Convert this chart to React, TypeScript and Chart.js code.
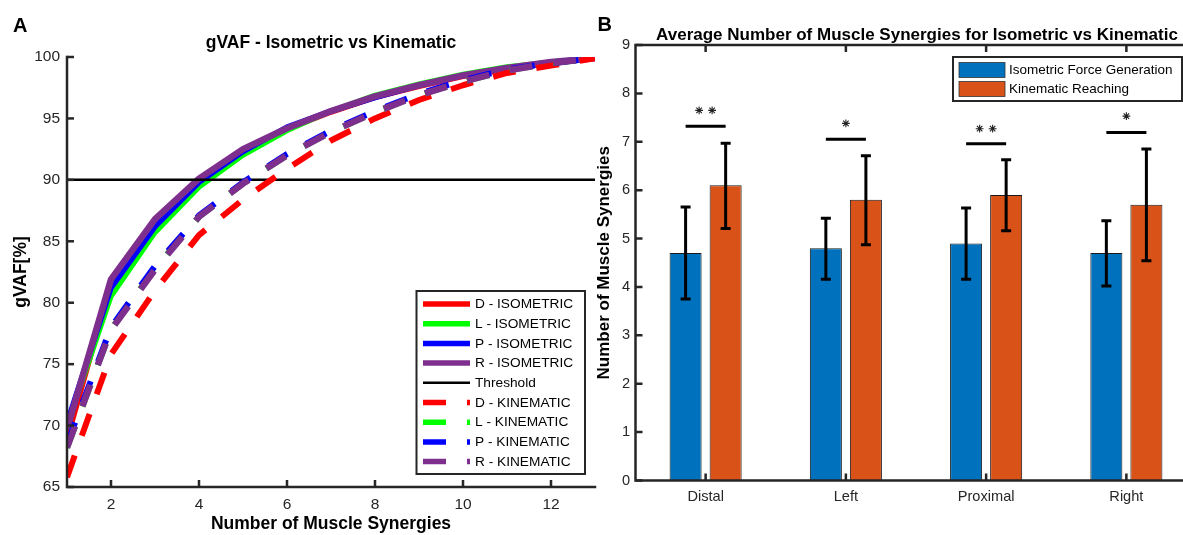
import React, { useEffect, useRef } from 'react';
import { Chart, registerables } from 'chart.js';

Chart.register(...registerables);

// ---------- Panel A data ----------
const synergyCounts = [1, 2, 3, 4, 5, 6, 7, 8, 9, 10, 11, 12, 13];
const dIsometric = [68.8, 81.5, 86.5, 89.8, 92.3, 94.1, 95.5, 96.7, 97.6, 98.4, 99.0, 99.5, 99.9];
const lIsometric = [70.0, 80.5, 85.7, 89.4, 92.0, 94.0, 95.6, 96.9, 97.8, 98.6, 99.2, 99.6, 99.9];
const pIsometric = [70.2, 81.2, 86.2, 89.8, 92.3, 94.3, 95.6, 96.7, 97.7, 98.5, 99.1, 99.5, 99.9];
const rIsometric = [69.7, 81.9, 86.8, 90.1, 92.5, 94.2, 95.6, 96.8, 97.7, 98.5, 99.1, 99.6, 99.9];
const thresholdX = [1, 13];
const thresholdValue = 90;
const dKinematic = [65.8, 75.8, 81.0, 85.5, 88.4, 90.9, 93.2, 95.0, 96.5, 97.7, 98.7, 99.3, 99.9];
const lKinematic = [68.2, 77.8, 82.8, 87.0, 89.7, 92.0, 93.9, 95.5, 96.9, 98.0, 98.9, 99.5, 99.9];
const pKinematic = [68.5, 78.0, 83.0, 87.1, 89.8, 92.1, 94.0, 95.6, 97.0, 98.1, 99.0, 99.5, 99.9];
const rKinematic = [68.2, 77.8, 82.7, 87.0, 89.7, 92.0, 93.9, 95.5, 96.9, 98.0, 98.9, 99.5, 99.9];
const gvafXTicks = [2, 4, 6, 8, 10, 12];
const gvafYTicks = [65, 70, 75, 80, 85, 90, 95, 100];

// ---------- Panel B data ----------
const regions = ['Distal', 'Left', 'Proximal', 'Right'];
const isometricMeans = [4.7, 4.8, 4.9, 4.7];
const kinematicMeans = [6.1, 5.8, 5.9, 5.7];
const isometricErrLow = [3.75, 4.16, 4.16, 4.02];
const isometricErrHigh = [5.65, 5.42, 5.63, 5.37];
const kinematicErrLow = [5.21, 4.87, 5.16, 4.54];
const kinematicErrHigh = [6.97, 6.71, 6.63, 6.85];
const significanceLevels = [7.32, 7.05, 6.96, 7.19];
const starLevels = [7.65, 7.38, 7.27, 7.53];
const starCounts = [2, 1, 2, 1];
const synergyYTicks = [0, 1, 2, 3, 4, 5, 6, 7, 8, 9];

const FONT = '"Liberation Sans", Arial, Helvetica, sans-serif';
const AXIS = '#262626';

type Series = { label: string; xs: number[]; values: number[]; color: string; width: number; dash: number[] };

const KDASH = [23, 21];
const seriesA: Series[] = [
  { label: 'D - ISOMETRIC', xs: synergyCounts, values: dIsometric, color: '#FF0000', width: 5, dash: [] },
  { label: 'L - ISOMETRIC', xs: synergyCounts, values: lIsometric, color: '#00FF00', width: 5, dash: [] },
  { label: 'P - ISOMETRIC', xs: synergyCounts, values: pIsometric, color: '#0000FF', width: 5.5, dash: [] },
  { label: 'R - ISOMETRIC', xs: synergyCounts, values: rIsometric, color: '#7E2F8E', width: 6.5, dash: [] },
  { label: 'Threshold', xs: thresholdX, values: thresholdX.map(() => thresholdValue), color: '#000000', width: 2.5, dash: [] },
  { label: 'D - KINEMATIC', xs: synergyCounts, values: dKinematic, color: '#FF0000', width: 6, dash: KDASH },
  { label: 'L - KINEMATIC', xs: synergyCounts, values: lKinematic, color: '#00FF00', width: 6, dash: KDASH },
  { label: 'P - KINEMATIC', xs: synergyCounts, values: pKinematic, color: '#0000FF', width: 6, dash: KDASH },
  { label: 'R - KINEMATIC', xs: synergyCounts, values: rKinematic, color: '#7E2F8E', width: 6.5, dash: KDASH },
];

const panelAPlugin = {
  id: 'panelA',
  afterDatasetsDraw(chart: any) {
    const ctx = chart.ctx;
    const { left, right, top, bottom } = chart.chartArea;
    const xs = chart.scales.x;
    const ys = chart.scales.y;
    ctx.save();
    ctx.strokeStyle = AXIS;
    ctx.lineWidth = 2.5;
    ctx.lineCap = 'square';
    ctx.beginPath();
    ctx.moveTo(left, top);
    ctx.lineTo(left, bottom);
    ctx.lineTo(right, bottom);
    ctx.stroke();
    ctx.lineCap = 'butt';
    ctx.lineWidth = 2.5;
    gvafYTicks.forEach((v) => {
      const y = ys.getPixelForValue(v);
      ctx.beginPath();
      ctx.moveTo(left, y);
      ctx.lineTo(left + 7, y);
      ctx.stroke();
    });
    gvafXTicks.forEach((v) => {
      const x = xs.getPixelForValue(v);
      ctx.beginPath();
      ctx.moveTo(x, bottom);
      ctx.lineTo(x, bottom - 7);
      ctx.stroke();
    });

    // legend
    const bx = 416.5, by = 291, bw = 168.5, bh = 183;
    ctx.fillStyle = '#ffffff';
    ctx.fillRect(bx, by, bw, bh);
    ctx.strokeStyle = AXIS;
    ctx.lineWidth = 2;
    ctx.strokeRect(bx, by, bw, bh);
    ctx.font = '13.7px ' + FONT;
    ctx.textBaseline = 'middle';
    ctx.textAlign = 'left';
    seriesA.forEach((s, i) => {
      const y = 304 + i * 19.7;
      ctx.strokeStyle = s.color;
      ctx.lineWidth = s.width === 2.5 ? 2.5 : 5.5;
      ctx.setLineDash(s.dash);
      ctx.beginPath();
      ctx.moveTo(423, y);
      ctx.lineTo(470, y);
      ctx.stroke();
      ctx.setLineDash([]);
      ctx.fillStyle = '#000000';
      ctx.fillText(s.label, 475, y + 0.5);
    });
    ctx.restore();
  },
  afterDraw(chart: any) {
    const ctx = chart.ctx;
    ctx.save();
    ctx.fillStyle = '#000000';
    ctx.textBaseline = 'alphabetic';
    ctx.textAlign = 'center';
    ctx.font = 'bold 17.5px ' + FONT;
    const { left, right } = chart.chartArea;
    ctx.fillText('gVAF - Isometric vs Kinematic', (left + right) / 2, 48);
    ctx.textAlign = 'left';
    ctx.font = 'bold 20px ' + FONT;
    ctx.fillText('A', 13, 32);
    ctx.restore();
  },
};

const panelBPlugin = {
  id: 'panelB',
  afterDatasetsDraw(chart: any) {
    const ctx = chart.ctx;
    const { left, right, top, bottom } = chart.chartArea;
    const xs = chart.scales.x;
    const ys = chart.scales.y;
    const m0 = chart.getDatasetMeta(0);
    const m1 = chart.getDatasetMeta(1);
    ctx.save();
    // error bars
    ctx.strokeStyle = '#000000';
    ctx.lineWidth = 3;
    const drawErr = (x: number, lo: number, hi: number) => {
      const yl = ys.getPixelForValue(lo);
      const yh = ys.getPixelForValue(hi);
      ctx.beginPath();
      ctx.moveTo(x, yl);
      ctx.lineTo(x, yh);
      ctx.moveTo(x - 5, yl);
      ctx.lineTo(x + 5, yl);
      ctx.moveTo(x - 5, yh);
      ctx.lineTo(x + 5, yh);
      ctx.stroke();
    };
    regions.forEach((_, j) => {
      drawErr(m0.data[j].x, isometricErrLow[j], isometricErrHigh[j]);
      drawErr(m1.data[j].x, kinematicErrLow[j], kinematicErrHigh[j]);
    });
    // significance lines and stars
    regions.forEach((_, j) => {
      const y = ys.getPixelForValue(significanceLevels[j]);
      ctx.strokeStyle = '#000000';
      ctx.lineWidth = 3;
      ctx.beginPath();
      ctx.moveTo(m0.data[j].x, y);
      ctx.lineTo(m1.data[j].x, y);
      ctx.stroke();
      const cx = xs.getPixelForValue(j);
      const sy = ys.getPixelForValue(starLevels[j]);
      const n = starCounts[j];
      const r = 3.9;
      ctx.strokeStyle = '#222222';
      ctx.lineWidth = 1.1;
      for (let k = 0; k < n; k++) {
        const sx = cx + (k - (n - 1) / 2) * 13;
        ctx.beginPath();
        for (let a = 0; a < 4; a++) {
          const ang = (a * Math.PI) / 4;
          ctx.moveTo(sx - r * Math.cos(ang), sy - r * Math.sin(ang));
          ctx.lineTo(sx + r * Math.cos(ang), sy + r * Math.sin(ang));
        }
        ctx.stroke();
      }
    });
    // axes box
    ctx.strokeStyle = AXIS;
    ctx.lineWidth = 2.5;
    ctx.lineCap = 'square';
    ctx.beginPath();
    ctx.moveTo(right, top);
    ctx.lineTo(left, top);
    ctx.lineTo(left, bottom);
    ctx.lineTo(right, bottom);
    ctx.lineTo(right, top);
    ctx.stroke();
    ctx.lineCap = 'butt';
    synergyYTicks.forEach((v) => {
      const y = ys.getPixelForValue(v);
      ctx.beginPath();
      ctx.moveTo(left, y);
      ctx.lineTo(left + 7, y);
      ctx.moveTo(right, y);
      ctx.lineTo(right - 7, y);
      ctx.stroke();
    });
    regions.forEach((_, j) => {
      const x = xs.getPixelForValue(j);
      ctx.beginPath();
      ctx.moveTo(x, bottom);
      ctx.lineTo(x, bottom - 7);
      ctx.moveTo(x, top);
      ctx.lineTo(x, top + 7);
      ctx.stroke();
    });
    // legend
    const bx = 363, by = 57, bw = 229, bh = 44;
    ctx.fillStyle = '#ffffff';
    ctx.fillRect(bx, by, bw, bh);
    ctx.strokeStyle = AXIS;
    ctx.lineWidth = 2;
    ctx.strokeRect(bx, by, bw, bh);
    ctx.font = '13.5px ' + FONT;
    ctx.textBaseline = 'middle';
    ctx.textAlign = 'left';
    chart.data.datasets.forEach((ds: any, i: number) => {
      const y = 62.5 + i * 19;
      ctx.fillStyle = ds.backgroundColor;
      ctx.fillRect(369, y, 46, 15);
      ctx.strokeStyle = '#333333';
      ctx.lineWidth = 0.8;
      ctx.strokeRect(369, y, 46, 15);
      ctx.fillStyle = '#000000';
      ctx.fillText(ds.label, 419, y + 8);
    });
    ctx.restore();
  },
  afterDraw(chart: any) {
    const ctx = chart.ctx;
    ctx.save();
    ctx.fillStyle = '#000000';
    ctx.textBaseline = 'alphabetic';
    ctx.textAlign = 'center';
    ctx.font = 'bold 17px ' + FONT;
    ctx.fillText('Average Number of Muscle Synergies for Isometric vs Kinematic', 327, 39.5);
    ctx.textAlign = 'left';
    ctx.font = 'bold 20px ' + FONT;
    ctx.fillText('B', 7.5, 30.5);
    ctx.restore();
  },
};

const tickFontA = { family: FONT, size: 15.5 };
const tickFontB = { family: FONT, size: 14.6 };

function makeConfigA(): any {
  return {
    type: 'line',
    data: {
      datasets: seriesA.map((s, i) => ({
        label: s.label,
        data: s.xs.map((x, k) => ({ x, y: s.values[k] })),
        borderColor: s.color,
        backgroundColor: s.color,
        borderWidth: s.width,
        borderDash: s.dash,
        borderCapStyle: 'butt',
        borderJoinStyle: 'round',
        pointRadius: 0,
        tension: 0,
        fill: false,
        order: -i,
      })),
    },
    options: {
      responsive: false,
      animation: false,
      devicePixelRatio: 1,
      layout: { padding: { top: 57, right: 5, left: 0, bottom: 0 } },
      plugins: { legend: { display: false }, tooltip: { enabled: false }, title: { display: false } },
      scales: {
        x: {
          type: 'linear',
          min: 1,
          max: 13,
          afterBuildTicks: (s: any) => {
            s.ticks = gvafXTicks.map((v) => ({ value: v }));
          },
          afterFit: (s: any) => {
            s.height = 48;
          },
          grid: { display: false, drawTicks: false },
          border: { display: false },
          ticks: { font: tickFontA, color: AXIS, padding: 8, maxRotation: 0, autoSkip: false },
          title: {
            display: true,
            text: 'Number of Muscle Synergies',
            color: '#000000',
            font: { family: FONT, size: 17.5, weight: 'bold' },
            padding: { top: 0, bottom: 0 },
          },
        },
        y: {
          type: 'linear',
          min: 65,
          max: 100,
          afterBuildTicks: (s: any) => {
            s.ticks = gvafYTicks.map((v) => ({ value: v }));
          },
          afterFit: (s: any) => {
            s.width = 67;
          },
          grid: { display: false, drawTicks: false },
          border: { display: false },
          ticks: { font: tickFontA, color: AXIS, padding: 7 },
          title: {
            display: true,
            text: 'gVAF[%]',
            color: '#000000',
            font: { family: FONT, size: 17.5, weight: 'bold' },
            padding: { top: 11, bottom: 0 },
          },
        },
      },
    },
    plugins: [panelAPlugin],
  };
}

function makeConfigB(): any {
  return {
    type: 'bar',
    data: {
      labels: regions,
      datasets: [
        {
          label: 'Isometric Force Generation',
          data: isometricMeans,
          backgroundColor: '#0072BD',
          borderColor: '#1a1a1a',
          borderWidth: 1,
          categoryPercentage: 0.571,
          barPercentage: 0.8,
        },
        {
          label: 'Kinematic Reaching',
          data: kinematicMeans,
          backgroundColor: '#D95319',
          borderColor: '#1a1a1a',
          borderWidth: 1,
          categoryPercentage: 0.571,
          barPercentage: 0.8,
        },
      ],
    },
    options: {
      responsive: false,
      animation: false,
      devicePixelRatio: 1,
      layout: { padding: { top: 45, right: 33.5, left: 0, bottom: 0 } },
      plugins: { legend: { display: false }, tooltip: { enabled: false }, title: { display: false } },
      scales: {
        x: {
          type: 'category',
          afterFit: (s: any) => {
            s.height = 54.5;
          },
          grid: { display: false, drawTicks: false },
          border: { display: false },
          ticks: { font: tickFontB, color: AXIS, padding: 8, maxRotation: 0, autoSkip: false },
        },
        y: {
          type: 'linear',
          min: 0,
          max: 9,
          afterBuildTicks: (s: any) => {
            s.ticks = synergyYTicks.map((v) => ({ value: v }));
          },
          afterFit: (s: any) => {
            s.width = 45.5;
          },
          grid: { display: false, drawTicks: false },
          border: { display: false },
          ticks: { font: tickFontB, color: AXIS, padding: 5.5 },
          title: {
            display: true,
            text: 'Number of Muscle Synergies',
            color: '#000000',
            font: { family: FONT, size: 17, weight: 'bold' },
            padding: { top: 4.5, bottom: 0 },
          },
        },
      },
    },
    plugins: [panelBPlugin],
  };
}

export default function App() {
  const refA = useRef<HTMLCanvasElement>(null);
  const refB = useRef<HTMLCanvasElement>(null);
  useEffect(() => {
    const a = new Chart(refA.current as HTMLCanvasElement, makeConfigA());
    const b = new Chart(refB.current as HTMLCanvasElement, makeConfigB());
    return () => {
      a.destroy();
      b.destroy();
    };
  }, []);
  return (
    <div
      style={{
        position: 'fixed',
        left: 0,
        top: 0,
        width: 1183,
        height: 535,
        overflow: 'hidden',
        background: '#ffffff',
      }}
    >
      <canvas
        ref={refA}
        width={600}
        height={535}
        style={{ position: 'absolute', left: 0, top: 0, width: 600, height: 535 }}
      />
      <canvas
        ref={refB}
        width={640}
        height={535}
        style={{ position: 'absolute', left: 590, top: 0, width: 640, height: 535 }}
      />
    </div>
  );
}
